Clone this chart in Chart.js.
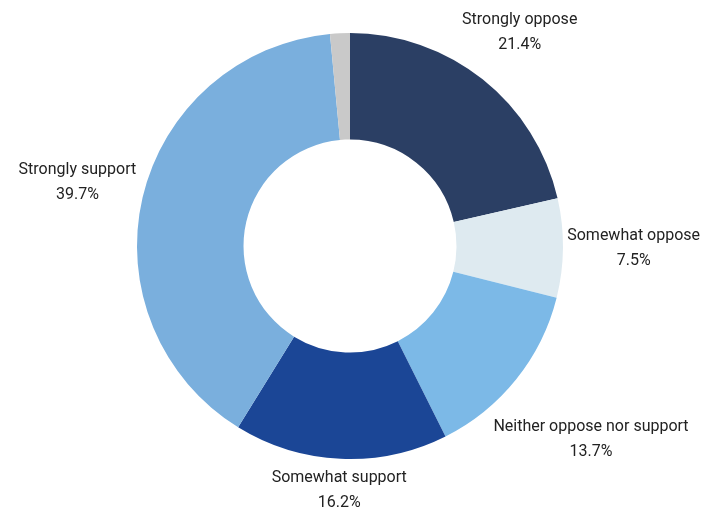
<!DOCTYPE html>
<html>
<head>
<meta charset="utf-8">
<script src="https://cdn.jsdelivr.net/npm/chart.js@4/dist/chart.umd.min.js"></script>
<style>
	html, body { margin: 0; padding: 0; background: #fff; }
	#wrap { width: 708px; height: 508px; }
</style>
</head>
<body>
<div id="wrap"><canvas id="chart" width="708" height="508"></canvas></div>
<script>
// answers, clockwise from 12 o'clock; last slice is the unlabeled remainder
var categories = ["Strongly oppose", "Somewhat oppose", "Neither oppose nor support", "Somewhat support", "Strongly support", ""];
var shares = [21.4, 7.5, 13.7, 16.2, 39.7, 1.5];
var colors = ["#2b3f64", "#deeaf0", "#7cb9e7", "#1b4696", "#7aafdd", "#c9c9c9"];

var FONT = "16px Roboto, 'Noto Sans', sans-serif";
var LINE_H = 25;

// outside labels: category on top, percentage underneath,
// pushed out along the slice's middle angle until the box clears the ring
var outsideLabels = {
	id: "outsideLabels",
	afterDatasetsDraw: function(chart){
		var ctx = chart.ctx;
		var meta = chart.getDatasetMeta(0);
		ctx.save();
		ctx.font = FONT;
		ctx.fillStyle = "#222";
		ctx.textAlign = "center";
		ctx.textBaseline = "middle";
		for(var i=0; i<meta.data.length; i++){
			if(!categories[i]) continue;
			var arc = meta.data[i].getProps(["x", "y", "startAngle", "endAngle", "outerRadius"], true);
			var mid = (arc.startAngle + arc.endAngle) / 2;
			var cos = Math.cos(mid), sin = Math.sin(mid);
			var lines = [categories[i], shares[i].toFixed(1) + "%"];
			var w = Math.max(ctx.measureText(lines[0]).width, ctx.measureText(lines[1]).width);
			var h = lines.length * LINE_H;
			var gap = 4;
			var dist = arc.outerRadius + gap + Math.abs(cos) * w / 2 + Math.abs(sin) * h / 2;
			var cx = arc.x + cos * dist;
			var cy = arc.y + sin * dist;
			for(var j=0; j<lines.length; j++){
				ctx.fillText(lines[j], cx, cy - h / 2 + LINE_H * (j + 0.5));
			}
		}
		ctx.restore();
	}
};

new Chart(document.getElementById("chart"), {
	type: "doughnut",
	data: {
		labels: categories,
		datasets: [{
			data: shares,
			backgroundColor: colors,
			borderWidth: 0
		}]
	},
	options: {
		responsive: false,
		animation: false,
		cutout: "50%",
		layout: { padding: { top: 33, bottom: 49, left: 100, right: 108 } },
		plugins: {
			legend: { display: false },
			tooltip: { enabled: false }
		}
	},
	plugins: [outsideLabels]
});
</script>
</body>
</html>
